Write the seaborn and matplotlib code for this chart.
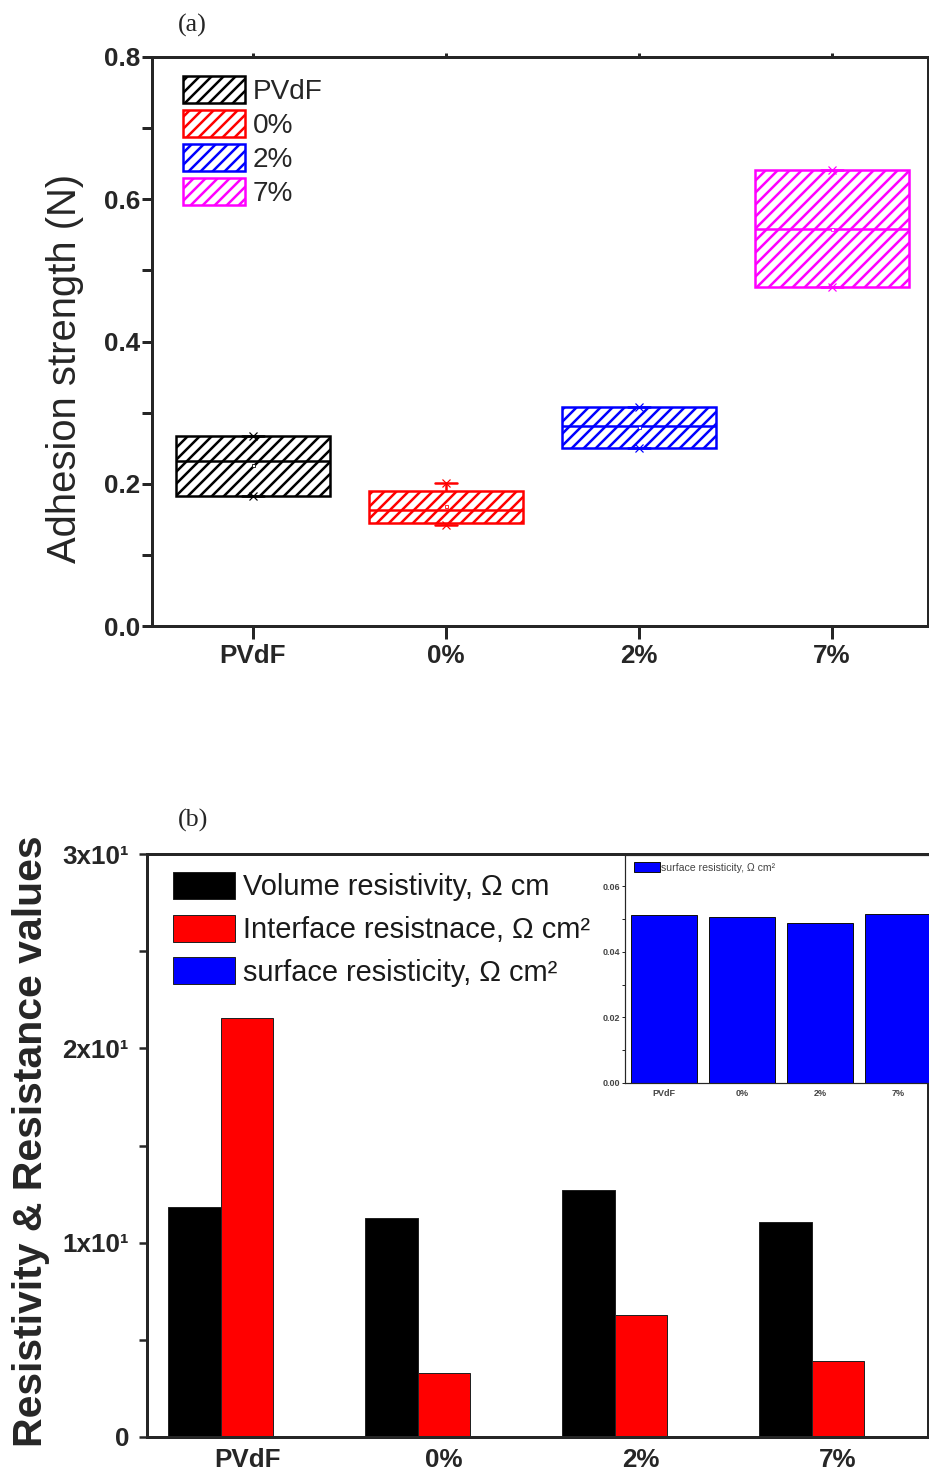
import numpy as np
import pandas as pd
import matplotlib
matplotlib.use("Agg")
import matplotlib.pyplot as plt
from matplotlib.patches import Patch
from matplotlib.ticker import MultipleLocator
import seaborn as sns

# ---------------- data ----------------
cats = ["PVdF", "0%", "2%", "7%"]
# panel (a): adhesion strength box statistics (N)
box_p1 = [0.183, 0.142, 0.250, 0.477]
box_q1 = [0.183, 0.145, 0.250, 0.477]
box_med = [0.232, 0.163, 0.281, 0.558]
box_q3 = [0.267, 0.190, 0.308, 0.641]
box_p99 = [0.267, 0.201, 0.308, 0.641]
box_colors = ["#000000", "#FF0000", "#0000FF", "#FF00FF"]

# panel (b): resistivity values
series_names = ["Volume resistivity, Ω cm",
                "Interface resistnace, Ω cm²",
                "surface resisticity, Ω cm²"]
volume_res = [11.84, 11.27, 12.71, 11.07]
interface_res = [21.56, 3.29, 6.28, 3.91]
surface_res = [0.0511, 0.0505, 0.0487, 0.0514]
bar_colors = ["#000000", "#FF0000", "#0000FF"]

y_ticks_b = [0, 10, 20, 30]
y_ticklabels_b = ["0", "1x10¹", "2x10¹", "3x10¹"]

# ---------------- style ----------------
sns.set_style("ticks")
plt.rcParams["font.family"] = ["Liberation Sans", "DejaVu Sans"]
plt.rcParams["hatch.linewidth"] = 2.5
plt.rcParams["axes.linewidth"] = 3

W, H, DPI = 929, 1475, 72
fig = plt.figure(figsize=(W / DPI, H / DPI), dpi=DPI)

def fx(px):
    return px / W

def fy(py):
    return 1 - py / H

# ---------------- panel (a) ----------------
ax1 = fig.add_axes([fx(152), fy(626), fx(927.5 - 152), (626 - 57) / H])
for i, c in enumerate(cats):
    vals = [box_p1[i], box_q1[i], box_med[i], box_q3[i], box_p99[i]]
    col = box_colors[i]
    sns.boxplot(x=[c] * len(vals), y=vals, order=cats, ax=ax1, width=0.8,
                color="white", linecolor=col, linewidth=2.5, whis=(0, 100),
                showfliers=False, capwidths=0.11, showmeans=True,
                meanprops=dict(marker="s", markersize=3,
                               markerfacecolor="white",
                               markeredgecolor=col, markeredgewidth=0.8))
    box = ax1.patches[-1]
    box.set_facecolor("white")
    box.set_edgecolor(col)
    box.set_hatch("//")
    sns.stripplot(x=[c, c], y=[box_p1[i], box_p99[i]], order=cats, ax=ax1,
                  jitter=False, marker="x", color=col, size=8, linewidth=1.2)

ax1.set_xlim(-0.523, -0.523 + (927.5 - 152) / 193)
ax1.set_ylim(0, 0.8)
ax1.set_yticks([0, 0.2, 0.4, 0.6, 0.8])
ax1.set_yticklabels(["0.0", "0.2", "0.4", "0.6", "0.8"], fontweight="bold", fontsize=26)
ax1.yaxis.set_minor_locator(MultipleLocator(0.1))
ax1.set_xticks(range(len(cats)))
ax1.set_xticklabels(cats, fontweight="bold", fontsize=26)
ax1.tick_params(axis="y", which="both", direction="out", length=10, width=3, pad=2)
ax1.tick_params(axis="x", which="major", direction="out", length=13, width=3, pad=5)
for s in ax1.spines.values():
    s.set_linewidth(3)
ax1.set_xlabel("")
ax1.set_ylabel("Adhesion strength (N)", fontsize=40)
ax1.yaxis.set_label_coords(-0.0877, 0.453)

sec = ax1.secondary_xaxis("top")
sec.set_xticks(range(len(cats)))
sec.set_xticklabels([])
sec.tick_params(direction="out", length=4, width=3)
sec.spines["top"].set_visible(False)

handles_a = [Patch(facecolor="white", edgecolor=c, hatch="//", linewidth=2.5)
             for c in box_colors]
ax1.legend(handles_a, cats, loc="upper left",
           bbox_to_anchor=(fx(183), fy(76)), bbox_transform=fig.transFigure,
           frameon=False, fontsize=28, handlelength=2.2, handleheight=1.1,
           handletextpad=0.3, labelspacing=0.18, borderpad=0, borderaxespad=0)

fig.text(fx(178), fy(25), "(a)", fontsize=26, family="Liberation Serif",
         ha="left", va="center")

# ---------------- panel (b) ----------------
ax2 = fig.add_axes([fx(147), fy(1437), fx(927.5 - 147), (1437 - 854) / H])
df = pd.DataFrame({
    "category": cats * 3,
    "series": [series_names[0]] * 4 + [series_names[1]] * 4 + [series_names[2]] * 4,
    "value": volume_res + interface_res + surface_res,
})
sns.barplot(data=df, x="category", y="value", hue="series", order=cats,
            hue_order=series_names, palette=bar_colors, saturation=1,
            width=0.8, edgecolor="#222222", linewidth=1, ax=ax2, errorbar=None)
leg_handles = ax2.get_legend().legend_handles
ax2.legend(leg_handles, series_names, loc="upper left",
           bbox_to_anchor=(fx(173), fy(872)), bbox_transform=fig.transFigure,
           frameon=False, fontsize=29, handlelength=2.15, handleheight=1.05,
           handletextpad=0.28, labelspacing=0.46, borderpad=0, borderaxespad=0,
           labelcolor="#1a1a1a")
ax2.set_xlim(-0.508, -0.508 + (927.5 - 147) / 197)
ax2.set_ylim(0, 30)
ax2.set_yticks(y_ticks_b)
ax2.set_yticklabels(y_ticklabels_b, fontweight="bold", fontsize=26)
ax2.yaxis.set_minor_locator(MultipleLocator(5))
ax2.set_xticks(range(len(cats)))
ax2.set_xticklabels(cats, fontweight="bold", fontsize=26)
ax2.tick_params(axis="y", which="both", direction="out", length=8, width=2.5, pad=10)
ax2.tick_params(axis="x", which="both", length=0, pad=11)
for s in ax2.spines.values():
    s.set_linewidth(3)
ax2.set_xlabel("")
ax2.set_ylabel("Resistivity & Resistance values", fontsize=41, fontweight="bold")
ax2.yaxis.set_label_coords(-0.124, 0.508)

fig.text(fx(178), fy(820), "(b)", fontsize=26, family="Liberation Serif",
         ha="left", va="center")

# ---------------- inset ----------------
ax3 = fig.add_axes([fx(625), fy(1083), fx(312), (1083 - 855) / H])
df_in = pd.DataFrame({"category": cats, "value": surface_res})
sns.barplot(data=df_in, x="category", y="value", order=cats, color="#0000FF",
            saturation=1, width=0.85, edgecolor="#111111", linewidth=1,
            ax=ax3, errorbar=None, label=series_names[2])
ax3.set_xlim(-0.5, 3.5)
ax3.set_ylim(0, 0.0695)
ax3.set_yticks([0, 0.02, 0.04, 0.06])
ax3.set_yticklabels(["0.00", "0.02", "0.04", "0.06"], fontsize=9,
                    fontweight="bold", color="#444444")
ax3.yaxis.set_minor_locator(MultipleLocator(0.01))
ax3.set_xticks(range(len(cats)))
ax3.set_xticklabels(cats, fontsize=9, fontweight="bold", color="#444444")
ax3.tick_params(axis="y", which="both", direction="out", length=3, width=1, pad=2)
ax3.tick_params(axis="x", length=0, pad=6)
for s in ax3.spines.values():
    s.set_linewidth(1.2)
ax3.spines["right"].set_visible(False)
ax3.set_xlabel("")
ax3.set_ylabel("")
ax3.legend(loc="upper left", bbox_to_anchor=(fx(634), fy(862)),
           bbox_transform=fig.transFigure, frameon=False, fontsize=10.5,
           handlelength=2.5, handleheight=1.15, handletextpad=0.1,
           borderpad=0, borderaxespad=0, labelcolor="#444444")

fig.savefig("out.png", dpi=DPI)
